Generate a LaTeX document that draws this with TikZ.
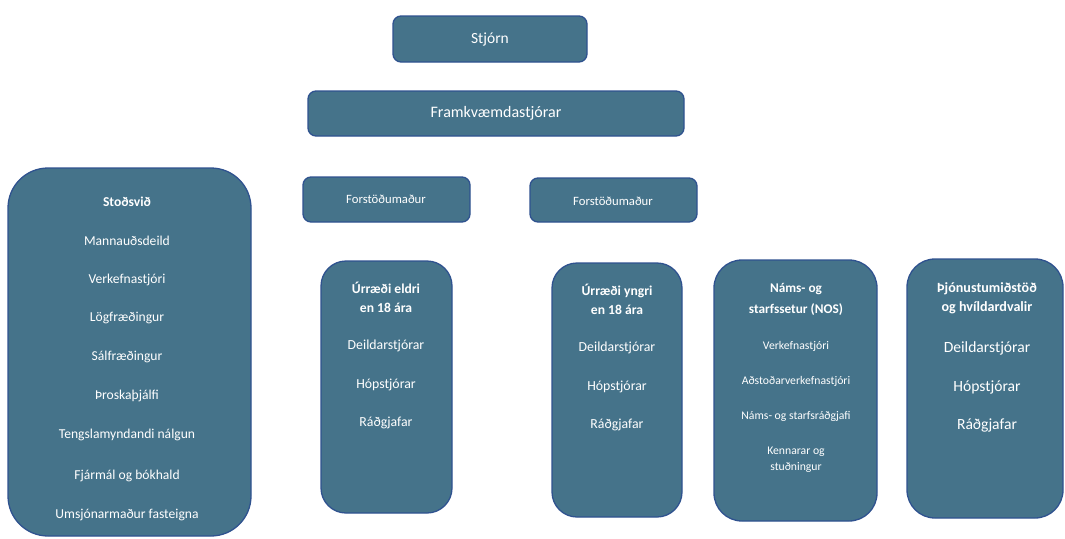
\documentclass[tikz,border=0pt]{standalone}
\usepackage{fontspec}
\setmainfont{Carlito}
\definecolor{boxfill}{HTML}{45738A}
\definecolor{boxline}{HTML}{2F528F}
\tikzset{
  orgbox/.style={draw=boxline,line width=1.3pt,fill=boxfill,inner sep=0pt},
  orgtext/.style={text=white,align=center,inner sep=0pt}
}

\begin{document}
\begin{tikzpicture}[x=1pt,y=-1pt]
\useasboundingbox (0,0) rectangle (1065,538);
%\draw[help lines,step=50] (0,0) grid (1065,538);

% boxes: name/left/top/right/bottom/corner
\foreach \n/\xa/\ya/\xb/\yb/\r in {stjorn/393/16/587/62/8, framkv/308/91/684/136/8,
    stod/8/168/251/536/40, forst1/303/177/470/222/8, forst2/530/178/697/222/8,
    eldri/321/261/452/513/25, yngri/552/263/682/517/25, nos/714/260/877/521/28,
    thjon/907/259/1063/518/28}
  \node[orgbox,rounded corners=\r pt,minimum width={(\xb-\xa)*1pt},minimum height={(\yb-\ya)*1pt}]
    (\n) at ({(\xa+\xb)/2},{(\ya+\yb)/2}) {};

% top
\node[orgtext,font=\fontsize{15.5}{18}\selectfont] (stjorn-t) at (490,39) {Stjórn};
\node[orgtext,font=\fontsize{16}{19}\selectfont] (framkv-t) at (496,113) {Framkvæmdastjórar};
\node[orgtext,font=\fontsize{12.7}{15}\selectfont] (forst1-t) at (386,199) {Forstöðumaður};
\node[orgtext,font=\fontsize{12.7}{15}\selectfont] (forst2-t) at (613,201) {Forstöðumaður};

% Stoðsvið
\node[orgtext,font=\bfseries\fontsize{13.6}{16}\selectfont] (stod-t) at (127,202) {Stoðsvið};
\foreach \y/\t in {241/Mannauðsdeild, 280/Verkefnastjóri, 318/Lögfræðingur, 357/Sálfræðingur,
    396/Þroskaþjálfi, 435/Tengslamyndandi nálgun, 476/Fjármál og bókhald, 515/Umsjónarmaður fasteigna}
  \node[orgtext,font=\fontsize{13.6}{16}\selectfont] (stod-\y) at (127,\y) {\t};

% Úrræði
\node[orgtext,font=\bfseries\fontsize{13.6}{19}\selectfont] (eldri-t) at (386,297.5) {Úrræði eldri\\en 18 ára};
\node[orgtext,font=\bfseries\fontsize{13.6}{19}\selectfont] (yngri-t) at (617,299.5) {Úrræði yngri\\en 18 ára};
\node[orgtext,font=\bfseries\fontsize{14.1}{19}\selectfont] (thjon-t) at (987,298.5) {Þjónustumiðstöð\\og hvíldardvalir};
\foreach \x/\d/\s in {386/0/13.8, 617/2/13.8, 987/2/15.6}
  \foreach \y/\t in {346/Deildarstjórar, 385/Hópstjórar, 423/Ráðgjafar}
    \node[orgtext,font=\fontsize{\s}{18}\selectfont] (item-\x-\y) at (\x,\y+\d) {\t};

% NOS
\node[orgtext,font=\bfseries\fontsize{13.3}{21}\selectfont] (nos-t) at (796,299.5) {Náms- og\\starfssetur (NOS)};
\foreach \y/\t in {346/Verkefnastjóri, 381/Aðstoðarverkefnastjóri, 416/Náms- og starfsráðgjafi,
    460/{Kennarar og\\stuðningur}}
  \node[orgtext,font=\fontsize{11.7}{16}\selectfont] (nos-\y) at (796,\y) {\t};
\end{tikzpicture}
\end{document}
